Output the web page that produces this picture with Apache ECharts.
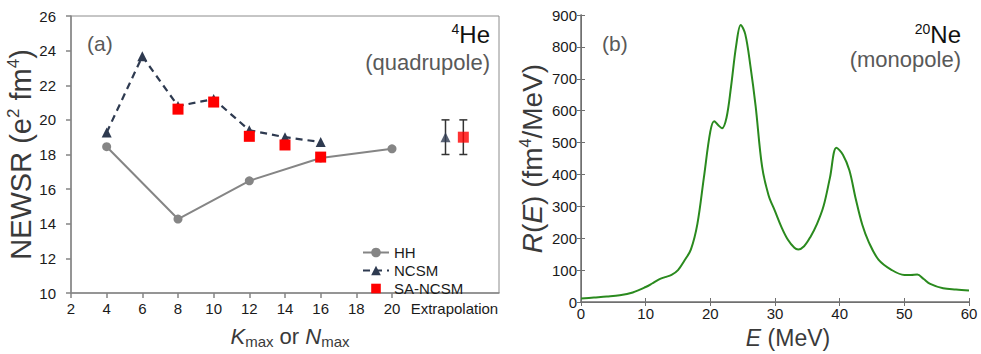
<!DOCTYPE html>
<html><head><meta charset="utf-8">
<script src="https://cdn.jsdelivr.net/npm/echarts@6/dist/echarts.min.js"></script>
<style>html,body{margin:0;padding:0;background:#fff}#c{width:981px;height:354px}</style>
</head><body><div id="c"></div>
<script>
// ---- Panel (a): 4He quadrupole NEWSR ----
const hhX = [4, 8, 12, 16, 20];
const hhY = [18.45, 14.27, 16.48, 17.8, 18.33];
const ncsmX = [4, 6, 8, 10, 12, 14, 16];
const ncsmY = [19.27, 23.67, 20.8, 21.2, 19.4, 19.0, 18.72];
const saX = [8, 10, 12, 14, 16];
const saY = [20.62, 21.03, 19.05, 18.55, 17.85];
const extrapNcsm = [23, 19.0, 18.0, 20.0];   // x, value, low, high
const extrapSa = [24, 19.0, 18.0, 20.0];
const leftXTicks = [2, 4, 6, 8, 10, 12, 14, 16, 18, 20];
const extrapLabelPos = 23.5;
const extrapLabel = 'Extrapolation';

// ---- Panel (b): 20Ne monopole response ----
const neE = [0, 2, 4, 6, 8, 10, 11, 12, 13, 14, 15, 16, 17, 18, 19, 20, 20.6, 21.2, 21.8, 22.5, 23.2, 24, 24.7, 25.4, 26.2, 27, 28, 29, 30, 31, 32, 33, 33.6, 34.5, 35.5, 36.5, 37.5, 38.5, 39.5, 40.5, 41.5, 42.5, 43.5, 44.5, 46, 48, 50, 51, 52, 53, 54, 56, 58, 60];
const neR = [11, 14, 17, 21, 30, 47, 58, 70, 78, 85, 100, 130, 165, 245, 390, 535, 567, 555, 545, 578, 675, 805, 869, 840, 740, 615, 425, 335, 285, 235, 195, 170, 165, 175, 205, 245, 300, 390, 484, 462, 413, 322, 242, 188, 133, 101, 85, 85, 86, 72, 57, 43, 39, 36];

const zip = (a, b) => a.map((v, i) => [v, b[i]]);
const FONT = '"Liberation Sans", Arial, sans-serif';
const navy = '#2e3a50';
const grayLine = '#858585';

const chart = echarts.init(document.getElementById('c'), null, {renderer: 'svg'});

function errorBar(params, api) {
  const x = api.value(0), lo = api.value(1), hi = api.value(2);
  const pLo = api.coord([x, lo]), pHi = api.coord([x, hi]);
  const cap = 4;
  const st = {stroke: '#333', lineWidth: 1.5};
  return {type: 'group', children: [
    {type: 'line', shape: {x1: pLo[0], y1: pLo[1], x2: pHi[0], y2: pHi[1]}, style: st},
    {type: 'line', shape: {x1: pLo[0]-cap, y1: pLo[1], x2: pLo[0]+cap, y2: pLo[1]}, style: st},
    {type: 'line', shape: {x1: pHi[0]-cap, y1: pHi[1], x2: pHi[0]+cap, y2: pHi[1]}, style: st}
  ]};
}

chart.setOption({
  animation: false,
  textStyle: {fontFamily: FONT},
  grid: [
    {left: 71, top: 16, width: 428, height: 283, show: true, borderColor: '#8c8c8c', borderWidth: 1},
    {left: 581, top: 15, width: 388, height: 290}
  ],
  xAxis: [
    {gridIndex: 0, type: 'value', min: 2, max: 26,
     axisLine: {lineStyle: {color: grayLine, width: 1.5}},
     axisTick: {customValues: leftXTicks, length: 5, lineStyle: {color: grayLine, width: 1.5}},
     axisLabel: {customValues: leftXTicks.concat([extrapLabelPos]), formatter: v => (v === extrapLabelPos ? extrapLabel : String(v)), margin: 8, fontSize: 15, color: '#1a1a1a', fontFamily: FONT},
     splitLine: {show: false},
     name: '{i|K}{sub|max}{n| or }{i|N}{sub|max}', nameLocation: 'middle', nameGap: 30,
     nameTextStyle: {padding: [0, 0, 0, 10], rich: {
       i: {fontSize: 22, fontStyle: 'italic', color: '#3a3a3a', fontFamily: FONT, lineHeight: 26},
       n: {fontSize: 22, color: '#3a3a3a', fontFamily: FONT, lineHeight: 26},
       sub: {fontSize: 15, color: '#3a3a3a', verticalAlign: 'bottom', lineHeight: 16, fontFamily: FONT}}}},
    {gridIndex: 1, type: 'value', min: 0, max: 60, interval: 10,
     axisLine: {lineStyle: {color: '#707070', width: 1.5}},
     axisTick: {inside: true, length: 4, lineStyle: {color: '#707070'}},
     axisLabel: {margin: 4, fontSize: 15, color: '#1a1a1a', fontFamily: FONT},
     splitLine: {show: false},
     name: '{i|E}{n| (MeV)}', nameLocation: 'middle', nameGap: 24,
     nameTextStyle: {padding: [0, 0, 0, 26], rich: {
       i: {fontSize: 23, fontStyle: 'italic', color: '#3a3a3a', fontFamily: FONT},
       n: {fontSize: 23, color: '#3a3a3a', fontFamily: FONT}}}},
    {gridIndex: 1, type: 'value', position: 'top', min: 0, max: 60, interval: 10,
     axisLine: {lineStyle: {color: '#707070', width: 1}},
     axisTick: {inside: true, length: 4, lineStyle: {color: '#707070'}},
     axisLabel: {show: false}, splitLine: {show: false}}
  ],
  yAxis: [
    {gridIndex: 0, type: 'value', min: 10, max: 26, interval: 2,
     axisLine: {show: true, lineStyle: {color: grayLine, width: 1.5}},
     axisTick: {show: true, length: 5, lineStyle: {color: grayLine, width: 1.5}},
     axisLabel: {margin: 15, fontSize: 15, color: '#1a1a1a', fontFamily: FONT},
     splitLine: {show: false},
     name: '{n|NEWSR (e}{sup|2}{n| fm}{sup|4}{n|)}', nameLocation: 'middle', nameGap: 32, nameRotate: 90,
     nameTextStyle: {rich: {
       n: {fontSize: 29, color: '#3a3a3a', fontFamily: FONT, lineHeight: 31},
       sup: {fontSize: 17, color: '#3a3a3a', verticalAlign: 'top', lineHeight: 19, fontFamily: FONT}}}},
    {gridIndex: 1, type: 'value', min: 0, max: 900, interval: 100,
     axisLine: {show: true, lineStyle: {color: '#707070', width: 1.5}},
     axisTick: {show: true, inside: true, length: 4, lineStyle: {color: '#707070'}},
     axisLabel: {margin: 4, fontSize: 15, color: '#1a1a1a', fontFamily: FONT},
     splitLine: {show: false},
     name: '{i|R}{n|(}{i|E}{n|) (fm}{sup|4}{n|/MeV)}', nameLocation: 'middle', nameGap: 34, nameRotate: 90,
     nameTextStyle: {rich: {
       i: {fontSize: 28, fontStyle: 'italic', color: '#3a3a3a', fontFamily: FONT, lineHeight: 30},
       n: {fontSize: 28, color: '#3a3a3a', fontFamily: FONT, lineHeight: 30},
       sup: {fontSize: 16, color: '#3a3a3a', verticalAlign: 'top', lineHeight: 18, fontFamily: FONT}}}},
    {gridIndex: 1, type: 'value', position: 'right', min: 0, max: 900, interval: 100,
     axisLine: {show: true, lineStyle: {color: '#707070', width: 1}},
     axisTick: {show: true, inside: true, length: 4, lineStyle: {color: '#707070'}},
     axisLabel: {show: false}, splitLine: {show: false}}
  ],
  legend: {
    orient: 'vertical', left: 362, top: 245, padding: 0,
    itemWidth: 26, itemHeight: 12, itemGap: 3,
    textStyle: {fontSize: 15, lineHeight: 14, color: '#1a1a1a', fontFamily: FONT},
    data: [{name: 'HH'}, {name: 'NCSM'}, {name: 'SA-NCSM'}]
  },
  graphic: [
    {type: 'text', left: 87, top: 33, style: {text: '(a)', fontSize: 21, fill: '#595959', fontFamily: FONT}},
    {type: 'text', x: 490, y: 22, style: {text: '{s|4}{b|He}', align: 'right', verticalAlign: 'top',
      rich: {s: {fontSize: 14, verticalAlign: 'top', lineHeight: 15, fill: '#111', fontFamily: FONT}, b: {fontSize: 24, lineHeight: 25, fill: '#111', fontFamily: FONT}}}},
    {type: 'text', x: 490, y: 50, style: {text: '(quadrupole)', align: 'right', verticalAlign: 'top', fontSize: 22, lineHeight: 24, fill: '#595959', fontFamily: FONT}},
    {type: 'text', left: 602, top: 33, style: {text: '(b)', fontSize: 21, fill: '#595959', fontFamily: FONT}},
    {type: 'text', x: 961, y: 22, style: {text: '{s|20}{b|Ne}', align: 'right', verticalAlign: 'top',
      rich: {s: {fontSize: 14, verticalAlign: 'top', lineHeight: 15, fill: '#111', fontFamily: FONT}, b: {fontSize: 24, lineHeight: 25, fill: '#111', fontFamily: FONT}}}},
    {type: 'text', x: 961, y: 47, style: {text: '(monopole)', align: 'right', verticalAlign: 'top', fontSize: 22, lineHeight: 24, fill: '#595959', fontFamily: FONT}}
  ],
  series: [
    {name: 'HH', type: 'line', xAxisIndex: 0, yAxisIndex: 0, data: zip(hhX, hhY),
     symbol: 'circle', symbolSize: 9, color: '#858585',
     lineStyle: {color: '#858585', width: 2}, itemStyle: {color: '#858585'}, z: 2},
    {name: 'NCSM', type: 'line', xAxisIndex: 0, yAxisIndex: 0, data: zip(ncsmX, ncsmY),
     symbol: 'triangle', symbolSize: 10, color: navy,
     lineStyle: {color: navy, width: 2.2, type: [7, 5]}, itemStyle: {color: navy}, z: 3},
    {name: 'errors', type: 'custom', xAxisIndex: 0, yAxisIndex: 0,
     data: [[extrapNcsm[0], extrapNcsm[2], extrapNcsm[3]], [extrapSa[0], extrapSa[2], extrapSa[3]]],
     renderItem: errorBar, z: 2, silent: true},
    {name: 'NCSM extrapolated', type: 'scatter', xAxisIndex: 0, yAxisIndex: 0,
     data: [[extrapNcsm[0], extrapNcsm[1]]], symbol: 'triangle', symbolSize: 10, itemStyle: {color: navy}, z: 4},
    {name: 'SA-NCSM', type: 'line', xAxisIndex: 0, yAxisIndex: 0, data: zip(saX, saY),
     symbol: 'rect', symbolSize: 11, showAllSymbol: true, color: '#ff0000',
     lineStyle: {color: '#ff0000', width: 0, opacity: 0}, itemStyle: {color: '#ff0000'}, z: 5},
    {name: 'SA-NCSM extrapolated', type: 'scatter', xAxisIndex: 0, yAxisIndex: 0,
     data: [[extrapSa[0], extrapSa[1]]], symbol: 'rect', symbolSize: 11, itemStyle: {color: '#ff0000'}, z: 5},
    {name: '20Ne', type: 'line', xAxisIndex: 1, yAxisIndex: 1, data: zip(neE, neR),
     smooth: 0.35, symbol: 'none', lineStyle: {color: '#2a8a1e', width: 2}, color: '#2a8a1e', z: 3}
  ]
});
</script></body></html>
